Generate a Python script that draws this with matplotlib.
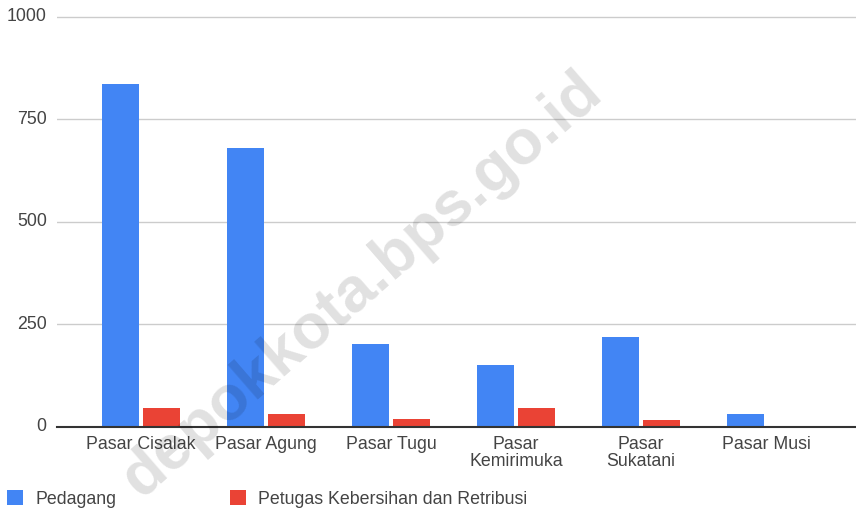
import matplotlib
matplotlib.use("Agg")
import matplotlib.pyplot as plt
import numpy as np

categories = ["Pasar Cisalak", "Pasar Agung", "Pasar Tugu", "Pasar\nKemirimuka", "Pasar\nSukatani", "Pasar Musi"]
pedagang = [836, 679, 201, 150, 219, 31]
petugas = [45, 31, 20, 46, 16, 0]
series_names = ["Pedagang", "Petugas Kebersihan dan Retribusi"]
yticks = [0, 250, 500, 750, 1000]

plt.rcParams['font.family'] = ['Liberation Sans', 'DejaVu Sans']

W, H = 856, 509
fig = plt.figure(figsize=(W/100, H/100), dpi=100)
left_px, right_px = 57, 856
top_px, base_px = 10, 426.7
ax = fig.add_axes([left_px/W, 1 - base_px/H, (right_px-left_px)/W, (base_px-top_px)/H])

x = np.arange(len(categories))
bw = 0.296
off = 0.164
blue = "#4285F4"
red = "#EA4335"
ax.bar(x - off, pedagang, bw, color=blue, zorder=3, label=series_names[0])
ax.bar(x + off, petugas, bw, color=red, zorder=3, label=series_names[1])

ax.set_xlim((left_px-141)/125, (right_px-141)/125)
ax.set_ylim(0, 1000 + (426.7-top_px-410)/0.41)
ax.set_yticks(yticks)
ax.set_yticklabels([str(v) for v in yticks])
ax.set_xticks(x)
ax.set_xticklabels(categories, linespacing=1.05)
ax.tick_params(axis='both', length=0, labelsize=12.8, colors="#444444")
ax.tick_params(axis='y', pad=7.4)
ax.tick_params(axis='x', pad=6.5)
for lbl in ax.get_yticklabels():
    lbl.set_verticalalignment('center')
ax.grid(axis='y', color="#cccccc", linewidth=1, zorder=0)
for s in ['top', 'right', 'left']:
    ax.spines[s].set_visible(False)
ax.spines['bottom'].set_color("#333333")
ax.spines['bottom'].set_linewidth(1.5)
ax.spines['bottom'].set_zorder(4)

leg = fig.legend(loc='lower left', bbox_to_anchor=(-0.006, -0.022), ncol=2, frameon=False,
                 fontsize=12.8, handlelength=0.9, handleheight=0.9, columnspacing=6.35,
                 handletextpad=0.7, borderaxespad=0.3)
for t in leg.get_texts():
    t.set_color("#444444")

fig.text(362/W, 1 - 285/H, "depokkota.bps.go.id", rotation=41, fontsize=45.5, fontweight='bold',
         color="#000000", alpha=0.12, ha='center', va='center', zorder=10)

fig.savefig("out.png", dpi=100)
